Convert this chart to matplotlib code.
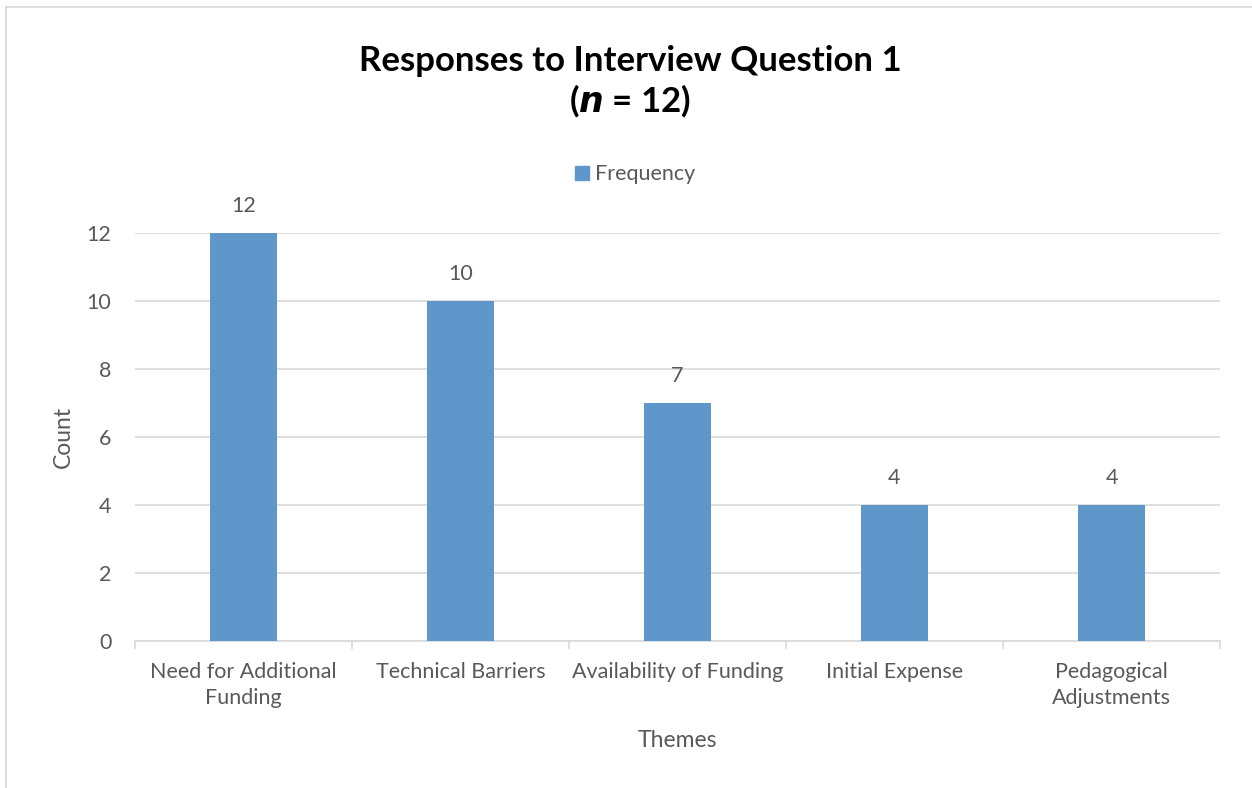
import matplotlib
matplotlib.use("Agg")
import matplotlib.pyplot as plt
from matplotlib.patches import Rectangle
from matplotlib.lines import Line2D

themes = ["Need for Additional\nFunding", "Technical Barriers", "Availability of Funding",
          "Initial Expense", "Pedagogical\nAdjustments"]
frequency = [12, 10, 7, 4, 4]
y_ticks = [0, 2, 4, 6, 8, 10, 12]

W, H = 1252, 788
fig = plt.figure(figsize=(W / 100, H / 100), dpi=100)
plt.rcParams['font.family'] = ['Lato', 'DejaVu Sans']

text_gray = "#595959"
grid_gray = "#D9D9D9"
bar_blue = "#6097CB"
fs = 15.5

# chart area frame
fig.add_artist(Line2D([6 / W, 6 / W], [0, 1 - 7 / H], color="#D9D9D9", lw=1.2))
fig.add_artist(Line2D([6 / W, 1], [1 - 7 / H, 1 - 7 / H], color="#D9D9D9", lw=1.2))

left, right, top, bottom = 135, 1220, 233, 641
ax = fig.add_axes([left / W, 1 - bottom / H, (right - left) / W, (bottom - top) / H])

x = list(range(len(themes)))
bars = ax.bar(x, frequency, width=0.313, color=bar_blue, zorder=3, label="Frequency")
ax.set_xlim(-0.5, len(themes) - 0.5)
ax.set_ylim(0, 12)
ax.set_yticks(y_ticks)
ax.set_yticklabels([str(v) for v in y_ticks])
ax.yaxis.grid(True, color=grid_gray, lw=1.2, zorder=0)
for s in ["top", "right", "left"]:
    ax.spines[s].set_visible(False)
ax.spines["bottom"].set_color(grid_gray)
ax.spines["bottom"].set_linewidth(1.2)
ax.tick_params(axis="y", length=0, labelsize=fs, labelcolor=text_gray, pad=17)

ax.set_xticks([i - 0.5 for i in range(len(themes) + 1)], minor=True)
ax.set_xticks(x)
ax.set_xticklabels(themes, fontsize=fs, color=text_gray, linespacing=1.4)
ax.tick_params(axis="x", which="major", length=0, pad=15)
ax.tick_params(axis="x", which="minor", length=6, color=grid_gray, width=1.2)

for b, v in zip(bars, frequency):
    ax.annotate(str(v), (b.get_x() + b.get_width() / 2, v), xytext=(0, 19.5),
                textcoords="offset points", ha="center", va="center",
                fontsize=fs, color=text_gray)

ax.set_ylabel("Count", fontsize=16.5, color=text_gray, labelpad=9)
ax.set_xlabel("Themes", fontsize=16.5, color=text_gray, labelpad=16)

fig.text(630 / W, 1 - 61 / H, "Responses to Interview Question 1", ha="center", va="center",
         fontsize=25, fontweight="bold", color="black")
fig.text(630 / W, 1 - 101 / H, r"($\mathbfit{n}$ = 12)", ha="center", va="center",
         fontsize=25, fontweight="bold", color="black")

# legend
fig.add_artist(Rectangle((575 / W, 1 - 180 / H), 14 / W, 14 / H, color=bar_blue,
                         transform=fig.transFigure))
fig.text(595 / W, 1 - 174 / H, "Frequency", ha="left", va="center",
         fontsize=fs, color=text_gray)

fig.savefig("out.png", dpi=100)
